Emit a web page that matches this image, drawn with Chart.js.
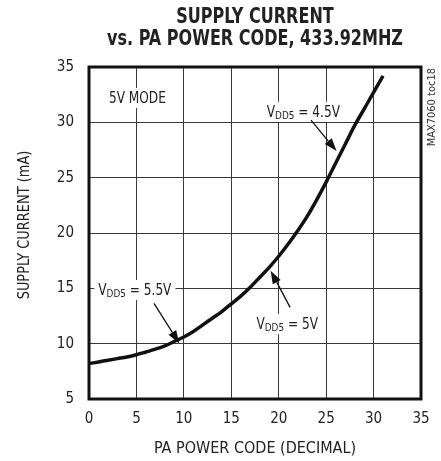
<!DOCTYPE html>
<html>
<head>
<meta charset="utf-8">
<script src="https://cdn.jsdelivr.net/npm/chart.js@4.4.1/dist/chart.umd.min.js"></script>
<style>
  html, body { margin: 0; padding: 0; background: #fff; }
  canvas { display: block; }
</style>
</head>
<body>
<canvas id="chart" width="441" height="461"></canvas>
<script>
// PA power code (decimal) vs supply current, mA
const codes = [0, 1, 2, 3, 4, 5, 6, 7, 8, 9, 10, 11, 12, 13, 14, 15,
  16, 17, 18, 19, 20, 21, 22, 23, 24, 25, 26, 27, 28, 29, 30, 31];
const current = [8.2, 8.35, 8.5, 8.65, 8.8, 9.0, 9.25, 9.5, 9.8, 10.2, 10.6, 11.1, 11.7, 12.3, 12.9, 13.6,
  14.3, 15.1, 16.0, 16.9, 17.9, 19.0, 20.2, 21.5, 23.0, 24.6, 26.3, 28.0, 29.7, 31.2, 32.7, 34.2];

const xTicks = [0, 5, 10, 15, 20, 25, 30, 35];
const yTicks = [5, 10, 15, 20, 25, 30, 35];

const titleLines = ['SUPPLY CURRENT', 'vs. PA POWER CODE, 433.92MHZ'];
const xTitle = 'PA POWER CODE (DECIMAL)';
const yTitle = 'SUPPLY CURRENT (mA)';
const tocText = 'MAX7060 toc18';

// text notes on the plot, placed in data units
const notes = [
  { parts: [['5V MODE', 0]], x: 5.1, y: 32.2 },
  { parts: [['V', 0], ['DD5', 1], [' = 4.5V', 0]], x: 22.6, y: 30.95 },
  { parts: [['V', 0], ['DD5', 1], [' = 5.5V', 0]], x: 4.83, y: 14.85 },
  { parts: [['V', 0], ['DD5', 1], [' = 5V', 0]], x: 20.9, y: 11.78 }
];
const arrows = [
  [23.4, 30.2, 26.1, 27.4],
  [6.85, 13.64, 9.52, 10.02],
  [21.2, 13.28, 19.15, 16.6]
];

const FONT = "'Liberation Sans Narrow', 'DejaVu Sans Condensed', 'Roboto', sans-serif";

function drawRich(ctx, parts, cx, cy) {
  const big = 15, small = 11;
  const sx = 0.9;
  let w = 0;
  parts.forEach(p => {
    ctx.font = (p[1] ? small : big) + 'px ' + FONT;
    w += ctx.measureText(p[0]).width * sx;
  });
  ctx.fillStyle = '#fff';
  ctx.fillRect(cx - w / 2 - 4, cy - 10, w + 8, 20);
  ctx.fillStyle = '#222';
  ctx.textBaseline = 'alphabetic';
  ctx.textAlign = 'left';
  let x = cx - w / 2;
  parts.forEach(p => {
    ctx.font = (p[1] ? small : big) + 'px ' + FONT;
    ctx.save();
    ctx.translate(x, cy + 5.5 + (p[1] ? 2 : 0));
    ctx.scale(sx, 1);
    ctx.fillText(p[0], 0, 0);
    ctx.restore();
    x += ctx.measureText(p[0]).width * sx;
  });
}

function drawArrow(ctx, x1, y1, x2, y2) {
  const ang = Math.atan2(y2 - y1, x2 - x1);
  const head = 13, half = 4.5;
  const bx = x2 - head * Math.cos(ang), by = y2 - head * Math.sin(ang);
  ctx.strokeStyle = '#111';
  ctx.lineWidth = 1.3;
  ctx.beginPath();
  ctx.moveTo(x1, y1);
  ctx.lineTo(bx, by);
  ctx.stroke();
  ctx.fillStyle = '#111';
  ctx.beginPath();
  ctx.moveTo(x2, y2);
  ctx.lineTo(bx + half * Math.sin(ang), by - half * Math.cos(ang));
  ctx.lineTo(bx - half * Math.sin(ang), by + half * Math.cos(ang));
  ctx.closePath();
  ctx.fill();
}

const decorPlugin = {
  id: 'decor',
  beforeDatasetsDraw(chart) {
    const ctx = chart.ctx;
    const xs = chart.scales.x, ys = chart.scales.y;
    const area = chart.chartArea;
    ctx.save();
    notes.forEach(n => {
      drawRich(ctx, n.parts, xs.getPixelForValue(n.x), ys.getPixelForValue(n.y));
    });
    arrows.forEach(a => {
      drawArrow(ctx, xs.getPixelForValue(a[0]), ys.getPixelForValue(a[1]),
        xs.getPixelForValue(a[2]), ys.getPixelForValue(a[3]));
    });
    // plot frame
    ctx.strokeStyle = '#111';
    ctx.lineWidth = 3;
    ctx.strokeRect(area.left, area.top, area.right - area.left, area.bottom - area.top);
    ctx.restore();

    // condensed bold title, centred over the plot
    const mid = (area.left + area.right) / 2;
    ctx.save();
    ctx.font = 'bold 22px ' + FONT;
    ctx.fillStyle = '#222';
    ctx.textAlign = 'center';
    ctx.textBaseline = 'alphabetic';
    titleLines.forEach((t, i) => {
      ctx.save();
      ctx.translate(mid, 23 + i * 22);
      ctx.scale(0.81, 1);
      ctx.fillText(t, 0, 0);
      ctx.restore();
    });
    ctx.restore();

    // y axis title, a little condensed
    ctx.save();
    ctx.translate(25, (area.top + area.bottom) / 2 - 8);
    ctx.rotate(-Math.PI / 2);
    ctx.scale(0.9, 1);
    ctx.font = '16px ' + FONT;
    ctx.fillStyle = '#222';
    ctx.textAlign = 'center';
    ctx.textBaseline = 'middle';
    ctx.fillText(yTitle, 0, 0);
    ctx.restore();

    // side code
    ctx.save();
    ctx.translate(area.right + 11, area.top + 1);
    ctx.rotate(-Math.PI / 2);
    ctx.font = '11px ' + FONT;
    ctx.fillStyle = '#333';
    ctx.textAlign = 'right';
    ctx.textBaseline = 'middle';
    ctx.fillText(tocText, 0, 0);
    ctx.restore();
  }
};

const ctx = document.getElementById('chart').getContext('2d');

new Chart(ctx, {
  type: 'line',
  data: {
    datasets: [{
      data: codes.map((c, i) => ({ x: c, y: current[i] })),
      borderColor: '#111',
      borderWidth: 3.5,
      pointRadius: 0,
      cubicInterpolationMode: 'monotone',
      fill: false
    }]
  },
  options: {
    responsive: false,
    animation: false,
    devicePixelRatio: 1,
    layout: {
      padding: { left: 0, right: 20, top: 67, bottom: 0 }
    },
    scales: {
      x: {
        type: 'linear',
        min: 0,
        max: 35,
        afterBuildTicks: scale => { scale.ticks = xTicks.map(v => ({ value: v })); },
        afterFit: scale => { scale.height = 62; },
        ticks: {
          padding: 11,
          color: '#222',
          font: { family: FONT, size: 15 }
        },
        grid: { color: '#3a3a3a', lineWidth: 1, drawTicks: false },
        border: { display: false },
        title: {
          display: true,
          text: xTitle,
          color: '#222',
          font: { family: FONT, size: 16 },
          padding: { top: 0, bottom: 3 }
        }
      },
      y: {
        type: 'linear',
        min: 5,
        max: 35,
        afterBuildTicks: scale => { scale.ticks = yTicks.map(v => ({ value: v })); },
        afterFit: scale => { scale.width = 89; },
        ticks: {
          padding: 15,
          color: '#222',
          font: { family: FONT, size: 15 }
        },
        grid: { color: '#3a3a3a', lineWidth: 1, drawTicks: false },
        border: { display: false },
        title: { display: false }
      }
    },
    plugins: {
      legend: { display: false },
      tooltip: { enabled: false },
      title: { display: false }
    }
  },
  plugins: [decorPlugin]
});
</script>
</body>
</html>
